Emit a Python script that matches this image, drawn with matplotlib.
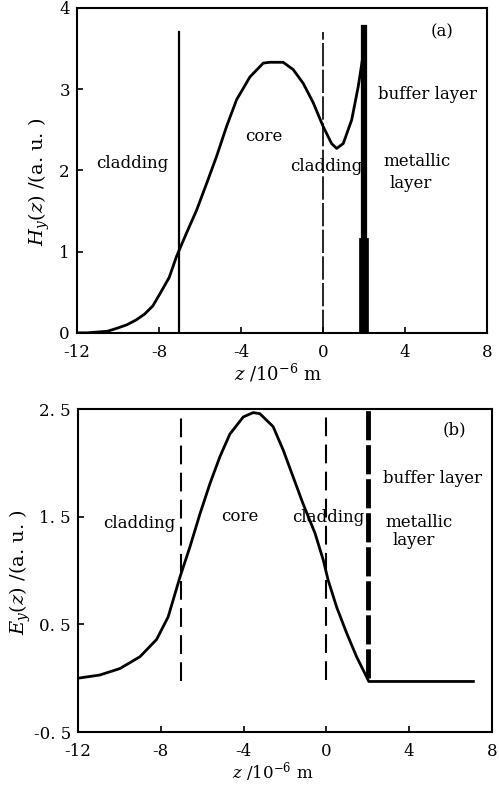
import numpy as np
import matplotlib.pyplot as plt

plt.rcParams['font.family'] = ['DejaVu Serif']
plt.rcParams['mathtext.fontset'] = 'dejavuserif'

# (a) magnetic field H_y(z)
za = [-12, -11.5, -11.0, -10.5, -10.0, -9.55, -9.1, -8.7, -8.3, -7.95, -7.5, -7.14,
      -6.65, -6.16, -5.67, -5.19, -4.7, -4.21, -3.56, -2.91, -2.59, -1.94, -1.45,
      -0.96, -0.47, 0.01, 0.42, 0.67, 0.99, 1.4, 1.72, 1.97, 2.05]
ha = [0.0, 0.0, 0.01, 0.02, 0.06, 0.1, 0.16, 0.23, 0.33, 0.48, 0.68, 0.94,
      1.23, 1.51, 1.84, 2.17, 2.54, 2.87, 3.15, 3.32, 3.33, 3.33, 3.24,
      3.07, 2.83, 2.54, 2.33, 2.27, 2.33, 2.62, 3.03, 3.44, 3.69]

# (b) electric field E_y(z)
zb = [-12, -10.94, -9.97, -9.0, -8.2, -7.64, -7.07, -6.59, -6.1, -5.62, -5.14,
      -4.66, -4.01, -3.53, -3.21, -2.57, -2.08, -1.6, -1.12, -0.55, -0.15, 0.09,
      0.5, 0.98, 1.46, 1.95, 2.05, 7.1]
eb = [0.0, 0.03, 0.09, 0.2, 0.36, 0.57, 0.94, 1.22, 1.53, 1.81, 2.06,
      2.27, 2.43, 2.47, 2.46, 2.34, 2.12, 1.87, 1.62, 1.35, 1.1, 0.91,
      0.66, 0.42, 0.2, 0.01, -0.03, -0.03]

bounds = [-7, 0]
metal_z = 2.0
a_labels = [("cladding", -9.3, 2.09), ("core", -2.9, 2.42), ("cladding", 0.15, 2.05),
            ("buffer layer", 5.1, 2.93), ("metallic", 4.6, 2.11), ("layer", 4.3, 1.84)]
b_labels = [("cladding", -9.05, 1.44), ("core", -4.17, 1.5), ("cladding", 0.1, 1.49),
            ("buffer layer", 5.15, 1.86), ("metallic", 4.5, 1.45), ("layer", 4.2, 1.28)]
xticks = [-12, -8, -4, 0, 4, 8]

fig = plt.figure(figsize=(4.99, 7.85), dpi=100)
ax1 = fig.add_axes([0.154, 0.576, 0.822, 0.414])
ax2 = fig.add_axes([0.156, 0.0675, 0.830, 0.411])

for ax in (ax1, ax2):
    for s in ax.spines.values():
        s.set_linewidth(1.5)
    ax.set_xlim(-12, 8)
    ax.set_xticks(xticks)
    ax.set_xticklabels([str(t) for t in xticks])
    ax.tick_params(direction='in', length=4, width=1.2, labelsize=12, pad=5)
    ax.tick_params(axis='x', pad=8)

# panel (a)
ax1.plot(za, ha, color='black', lw=2)
ax1.plot([bounds[0]] * 2, [0, 3.7], color='black', lw=1.6)
ax1.plot([bounds[1]] * 2, [0, 3.7], color='black', lw=1.2, linestyle=(0, (14, 2)))
ax1.plot([metal_z] * 2, [0, 1.1], color='black', lw=7)
ax1.plot([metal_z] * 2, [1.1, 3.75], color='black', lw=4.5)
ax1.set_ylim(0, 4)
ax1.set_yticks([0, 1, 2, 3, 4])
for t, x, y in a_labels:
    ax1.text(x, y, t, ha='center', va='center', fontsize=12)
ax1.text(5.8, 3.71, "(a)", ha='center', va='center', fontsize=12)
ax1.set_ylabel(r"$H_y(z)$ /(a. u. )", fontsize=14)
ax1.yaxis.set_label_coords(-0.061, 0.465)
ax1.set_xlabel(r"$z$ /10$^{-6}$ m", fontsize=13)
ax1.xaxis.set_label_coords(0.49, -0.09)

# panel (b)
ax2.plot(zb, eb, color='black', lw=2)
ax2.plot([bounds[0]] * 2, [-0.03, 2.44], color='black', lw=1.5, linestyle=(0, (9, 4)))
ax2.plot([bounds[1]] * 2, [-0.02, 2.46], color='black', lw=1.5, linestyle=(0, (9, 4)))
ax2.plot([metal_z] * 2, [0.0, 2.5], color='black', lw=3.5, linestyle=(0, (6, 1)))
ax2.set_ylim(-0.5, 2.5)
ax2.set_yticks([-0.5, 0.5, 1.5, 2.5])
ax2.set_yticklabels(["-0. 5", "0. 5", "1. 5", "2. 5"])
for t, x, y in b_labels:
    ax2.text(x, y, t, ha='center', va='center', fontsize=12)
ax2.text(6.2, 2.31, "(b)", ha='center', va='center', fontsize=12)
ax2.set_ylabel(r"$E_y(z)$ /(a. u. )", fontsize=14)
ax2.yaxis.set_label_coords(-0.109, 0.495)
ax2.set_xlabel(r"$z$ /10$^{-6}$ m", fontsize=12, va='center')
ax2.xaxis.set_label_coords(0.47, -0.125)

fig.savefig("out.png", dpi=100)
